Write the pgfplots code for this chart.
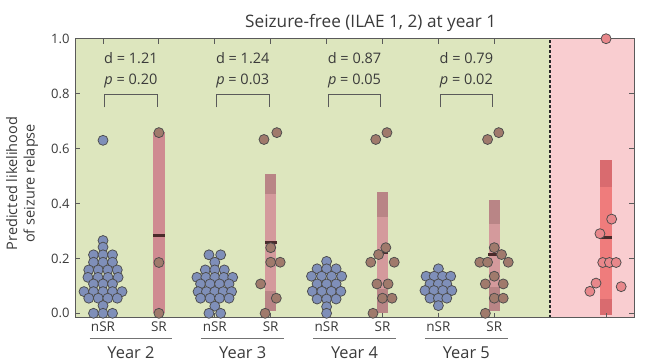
\documentclass[border=0pt]{standalone}
\usepackage{pgfplots}
\pgfplotsset{compat=1.18}
\usepackage{fontspec}
\setmainfont{Open Sans}
\definecolor{bggreen}{HTML}{DDE6BE}
\definecolor{bgpink}{HTML}{F9CDD0}
\definecolor{nsr}{HTML}{7F8FB9}
\definecolor{srpt}{HTML}{A07A6C}
\definecolor{nspt}{HTML}{E8878B}
\definecolor{barlt}{HTML}{D49A9C}
\definecolor{bardk}{HTML}{B98586}
\definecolor{bary2}{HTML}{CF8B91}
\definecolor{pinklt}{HTML}{EF7C7C}
\definecolor{pinkdk}{HTML}{D96B6F}
\definecolor{med}{HTML}{4A2B2B}
\definecolor{txt}{HTML}{3A3A3A}
\definecolor{axc}{HTML}{5A5A5A}
\begin{document}
\begin{tikzpicture}
\begin{axis}[
  width=559pt, height=279pt, scale only axis,
  xmin=0.5, xmax=10.5, ymin=-0.016, ymax=1,
  clip=false, axis on top,
  xtick={1,2,3,4,5,6,7,8,10},
  xticklabels={nSR,SR,nSR,SR,nSR,SR,nSR,SR,{}},
  ytick={0,0.2,0.4,0.6,0.8,1},
  yticklabel style={/pgf/number format/fixed, /pgf/number format/fixed zerofill, /pgf/number format/precision=1},
  /pgf/number format/assume math mode=true,
  tick align=inside, xtick pos=both, ytick pos=both,
  major tick length=5pt,
  axis line style={axc, line width=1pt},
  tick style={axc, line width=1pt},
  yticklabel style={font=\fontsize{13}{15}\selectfont, text=txt, xshift=-2pt},
  xticklabel style={font=\fontsize{13.5}{16}\selectfont, text=txt},
]
% backgrounds
\addplot[fill=bggreen, draw=none] coordinates {(0.5,-0.016)(9,-0.016)(9,1)(0.5,1)} --cycle;
\addplot[fill=bgpink, draw=none] coordinates {(9,-0.016)(10.5,-0.016)(10.5,1)(9,1)} --cycle;
\addplot[black!85, line width=1.4pt, dash pattern=on 3pt off 2pt] coordinates {(9,-0.016)(9,1)};
% bars
\addplot[fill=bary2, draw=none] coordinates {(1.9,0)(2.1,0)(2.1,0.66)(1.9,0.66)} --cycle;
\addplot[fill=bardk, draw=none] coordinates {(3.9,0.007)(4.1,0.007)(4.1,0.083)(3.9,0.083)} --cycle;
\addplot[fill=barlt, draw=none] coordinates {(3.9,0.083)(4.1,0.083)(4.1,0.436)(3.9,0.436)} --cycle;
\addplot[fill=bardk, draw=none] coordinates {(3.9,0.436)(4.1,0.436)(4.1,0.509)(3.9,0.509)} --cycle;
\addplot[fill=bardk, draw=none] coordinates {(5.9,0)(6.1,0)(6.1,0.09)(5.9,0.09)} --cycle;
\addplot[fill=barlt, draw=none] coordinates {(5.9,0.09)(6.1,0.09)(6.1,0.35)(5.9,0.35)} --cycle;
\addplot[fill=bardk, draw=none] coordinates {(5.9,0.35)(6.1,0.35)(6.1,0.442)(5.9,0.442)} --cycle;
\addplot[fill=bardk, draw=none] coordinates {(7.9,0.01)(8.1,0.01)(8.1,0.095)(7.9,0.095)} --cycle;
\addplot[fill=barlt, draw=none] coordinates {(7.9,0.095)(8.1,0.095)(8.1,0.324)(7.9,0.324)} --cycle;
\addplot[fill=bardk, draw=none] coordinates {(7.9,0.324)(8.1,0.324)(8.1,0.414)(7.9,0.414)} --cycle;
\addplot[fill=pinkdk, draw=none] coordinates {(9.9,-0.005)(10.1,-0.005)(10.1,0.053)(9.9,0.053)} --cycle;
\addplot[fill=pinklt, draw=none] coordinates {(9.9,0.053)(10.1,0.053)(10.1,0.46)(9.9,0.46)} --cycle;
\addplot[fill=pinkdk, draw=none] coordinates {(9.9,0.46)(10.1,0.46)(10.1,0.56)(9.9,0.56)} --cycle;
% medians
\addplot[med, line width=3pt] coordinates {(1.895,0.283)(2.105,0.283)};
\addplot[med, line width=3pt] coordinates {(3.895,0.259)(4.105,0.259)};
\addplot[med, line width=3pt] coordinates {(5.895,0.223)(6.105,0.223)};
\addplot[med, line width=3pt] coordinates {(7.895,0.214)(8.105,0.214)};
\addplot[med, line width=3pt] coordinates {(9.895,0.275)(10.105,0.275)};
% nSR points
\addplot[only marks, mark=*, mark size=5pt, mark options={fill=nsr, draw=black!70, line width=0.75pt}] coordinates {
(1,0.63)
(1,0.265)(1,0.241)
(0.83,0.213)(1,0.213)(1.17,0.213)
(0.83,0.186)(1,0.186)(1.17,0.186)
(0.745,0.158)(0.915,0.158)(1.085,0.158)(1.255,0.158)
(0.73,0.131)(0.91,0.131)(1.09,0.131)(1.27,0.131)
(0.83,0.107)(1,0.107)(1.17,0.107)
(0.66,0.079)(0.83,0.079)(1,0.079)(1.17,0.079)(1.34,0.079)
(0.745,0.055)(0.915,0.055)(1.085,0.055)(1.255,0.055)
(1,0.028)
(0.83,0)(1,0)(1.17,0)
(2.895,0.213)(3.105,0.213)
(3,0.186)
(2.83,0.158)(3,0.158)(3.17,0.158)
(2.68,0.131)(2.84,0.131)(3,0.131)(3.16,0.131)(3.32,0.131)
(2.745,0.107)(2.915,0.107)(3.085,0.107)(3.255,0.107)
(2.7,0.079)(2.85,0.079)(3,0.079)(3.15,0.079)(3.3,0.079)
(2.745,0.055)(2.915,0.055)(3.085,0.055)(3.255,0.055)
(3,0.026)
(2.895,0)(3.105,0)
(5,0.189)
(4.83,0.162)(5,0.162)(5.17,0.162)
(4.73,0.135)(4.91,0.135)(5.09,0.135)(5.27,0.135)
(4.83,0.107)(5,0.107)(5.17,0.107)
(4.745,0.080)(4.915,0.080)(5.085,0.080)(5.255,0.080)
(4.83,0.052)(5,0.052)(5.17,0.052)
(5,0.024)
(5,0)
(7,0.162)
(6.78,0.135)(6.925,0.135)(7.075,0.135)(7.22,0.135)
(6.85,0.107)(7,0.107)(7.15,0.107)
(6.76,0.083)(6.92,0.083)(7.08,0.083)(7.24,0.083)
(6.85,0.055)(7,0.055)(7.15,0.055)
(7,0.028)
};
% SR points
\addplot[only marks, mark=*, mark size=5pt, mark options={fill=srpt, draw=black!70, line width=0.75pt}] coordinates {
(2,0.658)(2,0.185)(2,0)
(4.00,0.239)(4.00,0.186)(4.17,0.186)(3.82,0.107)(4.10,0.055)(3.90,0)(3.88,0.633)(4.11,0.658)
(6.06,0.239)(5.93,0.214)(5.79,0.186)(6.21,0.186)(5.90,0.107)(6.10,0.107)(6.00,0.055)(6.17,0.055)(5.83,0)(5.88,0.633)(6.08,0.658)
(8.00,0.239)(8.13,0.214)(7.74,0.186)(7.88,0.186)(8.25,0.186)(8.00,0.135)(7.84,0.107)(8.16,0.107)(8.00,0.055)(8.16,0.055)(7.84,0)(7.88,0.633)(8.08,0.658)
};
% third group points
\addplot[only marks, mark=*, mark size=5pt, mark options={fill=nspt, draw=black!70, line width=0.75pt}] coordinates {
(10,1.0)(10.10,0.343)(9.89,0.29)(9.94,0.185)(10.06,0.185)(10.18,0.185)(9.82,0.11)(9.71,0.08)(10.27,0.097)
};
% annotations
\foreach \xa/\dd/\pp in {1/1.21/0.20, 3/1.24/0.03, 5/0.87/0.05, 7/0.79/0.02} {
  \edef\temp{\noexpand\node[font=\noexpand\fontsize{14.5}{16}\noexpand\selectfont, text=txt] at (axis cs:\xa+0.5,0.929) {d = \dd};
  \noexpand\node[font=\noexpand\fontsize{14.5}{16}\noexpand\selectfont, text=txt] at (axis cs:\xa+0.5,0.847) {\noexpand\textit{p} = \pp};
  \noexpand\draw[axc, line width=1pt] (axis cs:\xa+0.03,0.75) |- (axis cs:\xa+0.97,0.797) -- (axis cs:\xa+0.97,0.75);
  \noexpand\draw[black!55, line width=1pt] (axis cs:\xa-0.24,-0.092) -- (axis cs:\xa+1.24,-0.092);}
  \temp
}
\node[font=\fontsize{16.4}{19}\selectfont, text=txt] at (axis cs:1.5,-0.142) {Year 2};
\node[font=\fontsize{16.4}{19}\selectfont, text=txt] at (axis cs:3.5,-0.142) {Year 3};
\node[font=\fontsize{16.4}{19}\selectfont, text=txt] at (axis cs:5.5,-0.142) {Year 4};
\node[font=\fontsize{16.4}{19}\selectfont, text=txt] at (axis cs:7.5,-0.142) {Year 5};
\node[font=\fontsize{17.2}{20}\selectfont, text=txt] at (axis cs:5.79,1.058) {Seizure-free (ILAE 1, 2) at year 1};
\node[font=\fontsize{14.5}{17.5}\selectfont, text=txt, rotate=90, align=center] at (axis cs:-0.449,0.473) {Predicted likelihood\\of seizure relapse};
\coordinate (bl) at (axis cs:-0.843,-0.180);
\coordinate (tr) at (axis cs:11.09,1.141);
\end{axis}
\pgfresetboundingbox
\useasboundingbox (bl) rectangle (tr);
\end{tikzpicture}
\end{document}
